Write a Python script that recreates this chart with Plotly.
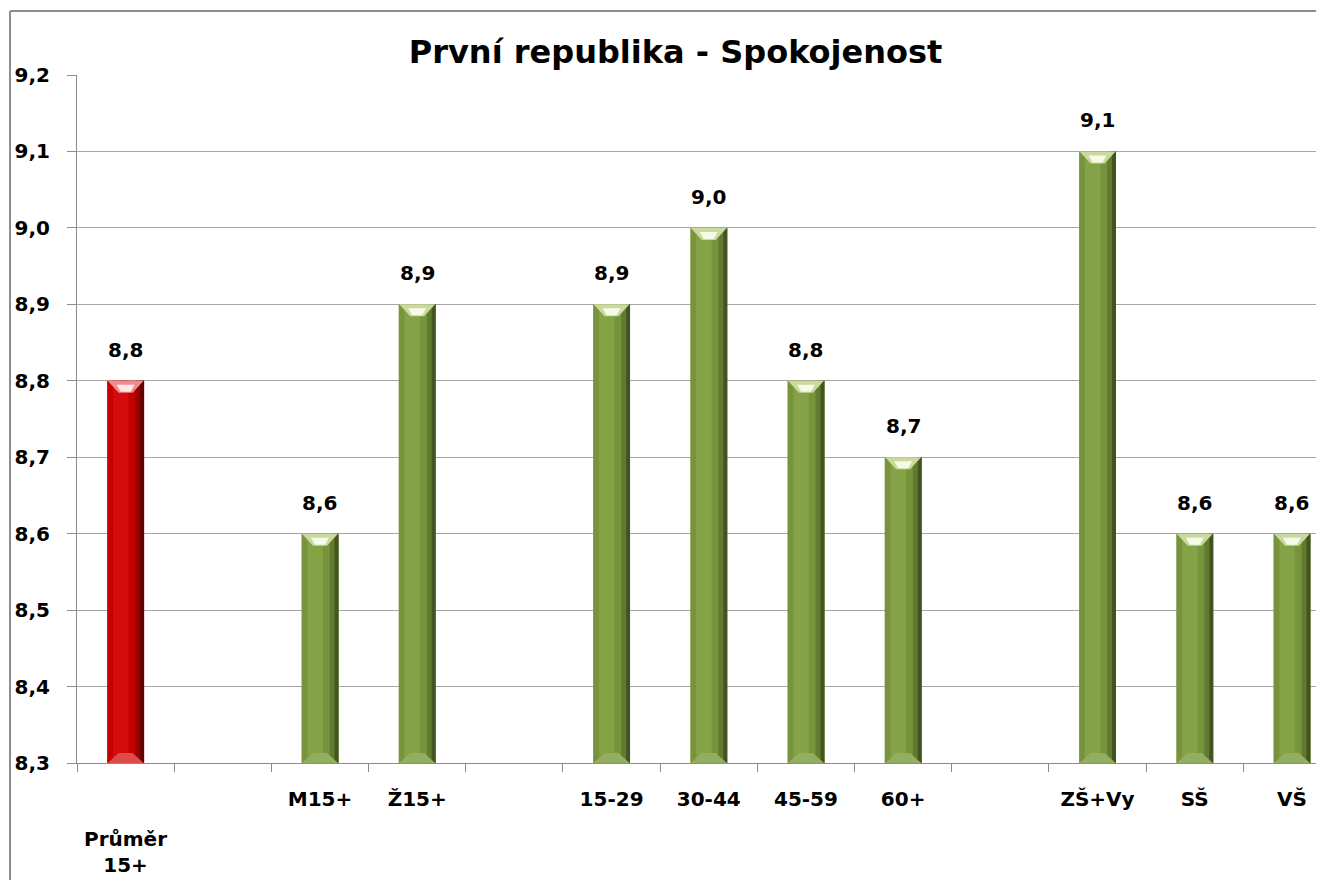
import plotly.graph_objects as go

# kategorie a hodnoty (prázdné kategorie = mezery mezi skupinami)
kategorie = ["Průměr 15+", " ", "M15+", "Ž15+", "  ", "15-29", "30-44",
             "45-59", "60+", "   ", "ZŠ+Vy", "SŠ", "VŠ"]
popisky_osy = ["", "", "M15+", "Ž15+", "", "15-29", "30-44",
               "45-59", "60+", "", "ZŠ+Vy", "SŠ", "VŠ"]
hodnoty = [8.8, None, 8.6, 8.9, None, 8.9, 9.0, 8.8, 8.7, None, 9.1, 8.6, 8.6]
popisky = ["8,8", "", "8,6", "8,9", "", "8,9", "9,0", "8,8", "8,7", "", "9,1", "8,6", "8,6"]

FONT = "DejaVu Sans"

# barvy: první sloupec červený, ostatní zelené
cerveny = [i == 0 for i in range(len(kategorie))]
zakladni = ["#C40000" if c else "#77933C" for c in cerveny]
svetla = ["#D60C0C" if c else "#84A246" for c in cerveny]
tmava = ["#960000" if c else "#607A2F" for c in cerveny]
nejtmavsi = ["#600000" if c else "#435420" for c in cerveny]
bevel = ["#EE8C8C" if c else "#C9D99F" for c in cerveny]
bevel_bila = ["#FFE8E8" if c else "#F6FAE6" for c in cerveny]
bevel_dole = ["#DC4A4A" if c else "#93AE60" for c in cerveny]

fig = go.Figure()


def vrstva(barvy, sirka, posun):
    fig.add_trace(go.Bar(
        x=kategorie, y=hodnoty, width=sirka, offset=posun,
        marker=dict(color=barvy, line=dict(width=0)),
        hoverinfo="skip", showlegend=False,
    ))


vrstva(zakladni, 0.38, -0.19)
vrstva(svetla, 0.16, -0.13)
vrstva(tmava, 0.09, 0.10)
vrstva(nejtmavsi, 0.04, 0.15)

# zkosení nahoře a dole (v pixelech kolem hodnoty sloupce)
for i, h in enumerate(hodnoty):
    if h is None:
        continue
    spolecne = dict(type="path", xref="x", yref="y", xsizemode="pixel", ysizemode="pixel",
                    xanchor=i, line=dict(width=0), layer="above")
    fig.add_shape(yanchor=h, path="M -18,0 L 18,0 L 7,-12 L -7,-12 Z",
                  fillcolor=bevel[i], **spolecne)
    fig.add_shape(yanchor=h, path="M -9,-4 L 9,-4 L 5,-11 L -5,-11 Z",
                  fillcolor=bevel_bila[i], **spolecne)
    fig.add_shape(yanchor=8.3, path="M -18,0 L 18,0 L 7,10 L -7,10 Z",
                  fillcolor=bevel_dole[i], **spolecne)
    fig.add_annotation(x=i, y=h, text=popisky[i], showarrow=False,
                       yanchor="bottom", yshift=17,
                       font=dict(family=FONT, size=20, color="#000000", weight="bold"))

# popisek první kategorie je v originále posunutý níž a zalomený
fig.add_annotation(x=0, y=8.3, text=kategorie[0].replace(" ", "<br>"), showarrow=False,
                   yanchor="top", yshift=-62,
                   font=dict(family=FONT, size=20, color="#000000", weight="bold"))

# rámeček grafu (jen levá a horní hrana jsou vidět)
ramecek = dict(type="line", xref="paper", yref="paper", line=dict(color="#8C8C8C", width=2),
               layer="below")
fig.add_shape(x0=-0.0537, x1=-0.0537, y0=-0.3, y1=1.093, **ramecek)
fig.add_shape(x0=-0.0537, x1=1.05, y0=1.093, y1=1.093, **ramecek)

fig.update_layout(
    width=1316, height=872,
    margin=dict(l=69, r=0, t=67, b=117),
    barmode="overlay",
    separators=", ",
    plot_bgcolor="white", paper_bgcolor="white",
    font=dict(family=FONT, size=20, color="#000000"),
    title=dict(text="První republika - Spokojenost", x=0.48, xref="paper",
               y=0.95, yref="container", xanchor="center", yanchor="middle",
               font=dict(family=FONT, size=32, color="#000000", weight="bold")),
)

fig.update_xaxes(
    type="category", range=[-0.5, 12.33], tickson="boundaries",
    tickvals=kategorie, ticktext=popisky_osy,
    ticks="outside", ticklen=8, tickcolor="#8C8C8C",
    showline=True, linecolor="#8C8C8C", linewidth=1, showgrid=False,
    tickfont=dict(family=FONT, size=20, color="#000000", weight="bold"),
    ticklabelstandoff=18,
)
fig.update_yaxes(
    range=[8.3, 9.2], dtick=0.1, tick0=8.3, tickformat=".1f",
    ticks="outside", ticklen=9, tickcolor="#8C8C8C",
    showline=True, linecolor="#8C8C8C", linewidth=1,
    showgrid=True, gridcolor="#A6A6A6", gridwidth=1, zeroline=False,
    tickfont=dict(family=FONT, size=20, color="#000000", weight="bold"),
    ticklabelstandoff=13,
)

fig.write_html("out.html")
